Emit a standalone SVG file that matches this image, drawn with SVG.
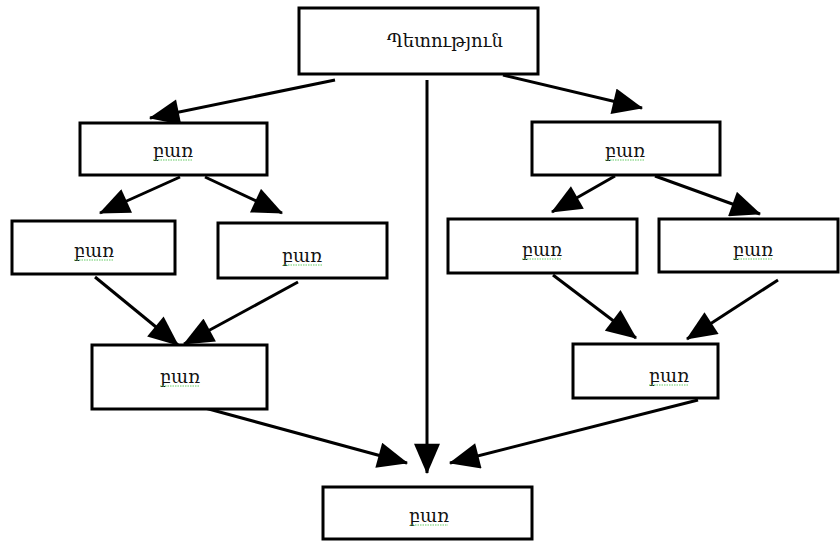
<svg xmlns="http://www.w3.org/2000/svg" width="840" height="541" viewBox="0 0 840 541">
<style>
.box{fill:#fff;stroke:#000;stroke-width:3}
.lbl{font-family:"DejaVu Serif","Noto Serif","DejaVu Sans",serif;font-size:18px;fill:#111;text-anchor:middle}
.con{stroke:#000;stroke-width:3;fill:none}
.sq{stroke:#6c6;stroke-width:1;stroke-dasharray:1.5 1;fill:none}
</style>
<defs>
<marker id="ah" markerUnits="userSpaceOnUse" markerWidth="32" markerHeight="26" viewBox="0 0 28 24" refX="27" refY="12" orient="auto">
<path d="M0,0 L28,12 L0,24 Z" fill="#000"/>
</marker>
</defs>
<rect width="840" height="541" fill="#fff"/>
<g id="connectors">
<line class="con" x1="335" y1="80" x2="150" y2="118" marker-end="url(#ah)"/>
<line class="con" x1="427" y1="80" x2="427" y2="473" marker-end="url(#ah)"/>
<line class="con" x1="503" y1="75" x2="642" y2="108" marker-end="url(#ah)"/>
<line class="con" x1="180" y1="177" x2="100" y2="213" marker-end="url(#ah)"/>
<line class="con" x1="205" y1="177" x2="282" y2="213" marker-end="url(#ah)"/>
<line class="con" x1="615" y1="176" x2="552" y2="212" marker-end="url(#ah)"/>
<line class="con" x1="655" y1="176" x2="760" y2="214" marker-end="url(#ah)"/>
<line class="con" x1="95" y1="277" x2="178" y2="345" marker-end="url(#ah)"/>
<line class="con" x1="298" y1="282" x2="184" y2="344" marker-end="url(#ah)"/>
<line class="con" x1="553" y1="275" x2="636" y2="338" marker-end="url(#ah)"/>
<line class="con" x1="778" y1="280" x2="687" y2="339" marker-end="url(#ah)"/>
<line class="con" x1="205" y1="408" x2="407" y2="463" marker-end="url(#ah)"/>
<line class="con" x1="698" y1="400" x2="450" y2="463" marker-end="url(#ah)"/>
</g>
<g id="n_top"><rect class="box" x="299" y="8" width="239" height="66"/><text class="lbl" x="445" y="47">Պետություն</text></g>
<g id="n_l1"><rect class="box" x="80" y="123" width="187" height="52"/><text class="lbl" x="173" y="157">բառ</text><path class="sq" d="M153,160 H193"/></g>
<g id="n_r1"><rect class="box" x="532" y="122" width="188" height="53"/><text class="lbl" x="625" y="157">բառ</text><path class="sq" d="M605,160 H645"/></g>
<g id="n_l2a"><rect class="box" x="12" y="221" width="163" height="53"/><text class="lbl" x="94" y="257">բառ</text><path class="sq" d="M74,260 H114"/></g>
<g id="n_l2b"><rect class="box" x="218" y="223" width="169" height="55"/><text class="lbl" x="302" y="262">բառ</text><path class="sq" d="M283,265 H322"/></g>
<g id="n_r2a"><rect class="box" x="448" y="219" width="189" height="54"/><text class="lbl" x="542" y="256">բառ</text><path class="sq" d="M522,259 H562"/></g>
<g id="n_r2b"><rect class="box" x="659" y="219" width="179" height="53"/><text class="lbl" x="753" y="256">բառ</text><path class="sq" d="M733,259 H773"/></g>
<g id="n_l3"><rect class="box" x="92" y="345" width="175" height="64"/><text class="lbl" x="180" y="383">բառ</text><path class="sq" d="M160,386 H200"/></g>
<g id="n_r3"><rect class="box" x="573" y="344" width="145" height="54"/><text class="lbl" x="669" y="382">բառ</text><path class="sq" d="M649,385 H689"/></g>
<g id="n_bottom"><rect class="box" x="323" y="487" width="209" height="52"/><text class="lbl" x="429" y="522">բառ</text><path class="sq" d="M410,525 H448"/></g>
</svg>
